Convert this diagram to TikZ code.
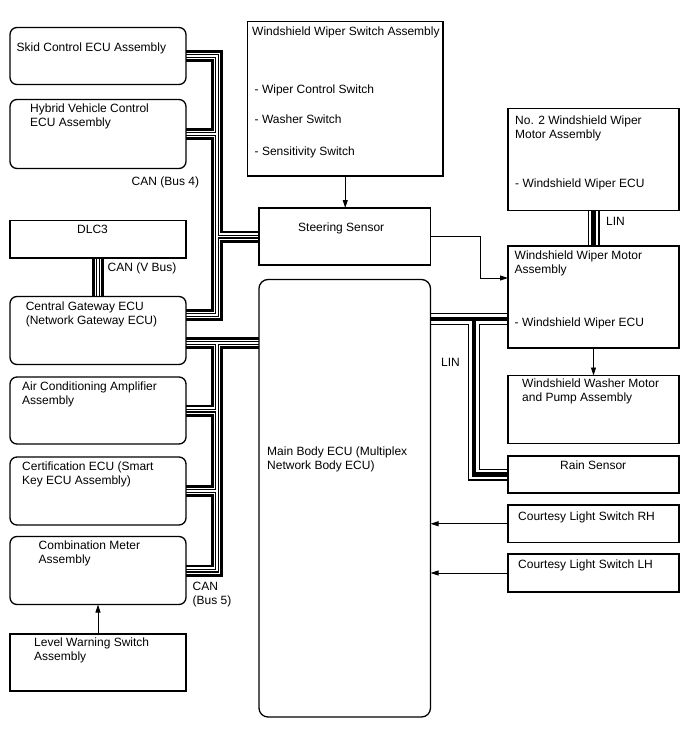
\documentclass[tikz,border=0pt]{standalone}
\usepackage{fontspec}
\setmainfont{Liberation Sans}
\usepackage{tikz}
\usetikzlibrary{arrows.meta,positioning}
\pgfdeclarelayer{bus}
\pgfsetlayers{bus,main}
\newcommand{\fs}{\fontsize{12}{14}\selectfont}
\newcommand{\canlayers}[1]{%
  \draw[line width=12pt] #1;
  \draw[line width=6.8pt,white] #1;
  \draw[line width=4pt] #1;
  \draw[line width=1.6pt,white] #1;}
\newcommand{\linlayers}[1]{%
  \draw[line width=12pt] #1;
  \draw[line width=9.4pt,white] #1;
  \draw[line width=4.4pt] #1;}

\begin{document}
\begin{tikzpicture}[
    x=1pt, y=-1pt,
    every node/.style={font=\fs},
    box/.style={draw, line width=1.3pt, outer sep=0pt},
    ecu/.style={box, rounded corners=7pt, minimum width=176pt},
    unit/.style={box, minimum width=171pt},
    txt/.style={inner sep=0pt, anchor=north west, align=left},
    lbl/.style={inner sep=0pt, anchor=west},
    arr/.style={-{Triangle[length=8pt,width=5pt]}, line width=0.9pt},
]
\useasboundingbox (0,0) rectangle (688,755);

\node[ecu, minimum height=57pt, anchor=north west] (skid) at (10,27.5) {};
\node[ecu, minimum height=69pt, below=15pt of skid] (hybrid) {};
\node[box, minimum width=176pt, minimum height=37.5pt, below=52pt of hybrid] (dlc) {};
\node[ecu, minimum height=68pt, below=38.5pt of dlc] (cgw) {};
\node[ecu, minimum height=67pt, below=12.5pt of cgw] (ac) {};
\node[ecu, minimum height=68pt, below=13pt of ac] (cert) {};
\node[ecu, minimum height=68pt, below=11.5pt of cert] (comb) {};
\node[box, minimum width=176pt, minimum height=57pt, below=29.5pt of comb] (level) {};

\node[box, minimum width=195.5pt, minimum height=154.5pt, anchor=north west] (wwsa) at (247.5,21.5) {};
\node[box, minimum width=171.5pt, minimum height=57pt, anchor=north west] (steering) at (259,208) {};
\node[ecu, rounded corners=9pt, minimum width=171.5pt, minimum height=437.5pt, below=14.5pt of steering] (main) {};

\node[unit, minimum height=102pt, anchor=north west] (no2) at (508,108.5) {};
\node[unit, minimum height=102pt, below=35.5pt of no2] (wwma) {};
\node[unit, minimum height=68pt, below=27.5pt of wwma] (washer) {};
\node[unit, minimum height=37pt, below=12.5pt of washer] (rain) {};
\node[unit, minimum height=37.5pt, below=12pt of rain] (rh) {};
\node[unit, minimum height=38pt, below=11.5pt of rh] (lh) {};

\node[txt, below right=14.8pt and 6.5pt of skid.north west] (skidtxt) {Skid Control ECU Assembly};
\node[txt, below right=4.4pt and 20pt of hybrid.north west] (hybridtxt) {Hybrid Vehicle Control\\ECU Assembly};
\node[txt, below right=4.1pt and 67pt of dlc.north west] (dlctxt) {DLC3};
\node[txt, below right=5.6pt and 15.6pt of cgw.north west] (cgwtxt) {Central Gateway ECU\\(Network Gateway ECU)};
\node[txt, below right=4.6pt and 12pt of ac.north west] (actxt) {Air Conditioning Amplifier\\Assembly};
\node[txt, below right=4.6pt and 12pt of cert.north west] (certtxt) {Certification ECU (Smart\\Key ECU Assembly)};
\node[txt, below right=4.1pt and 28.5pt of comb.north west] (combtxt) {Combination Meter\\Assembly};
\node[txt, below right=3.6pt and 24pt of level.north west] (leveltxt) {Level Warning Switch\\Assembly};

\node[txt, below right=5.1pt and 4.5pt of wwsa.north west] (wwsatxt) {Windshield Wiper Switch Assembly};
\node[txt, below right=62.8pt and 7pt of wwsa.north west] (wwsalist) {- Wiper Control Switch\\[16pt]- Washer Switch\\[18pt]- Sensitivity Switch};
\node[txt, below right=14.6pt and 39pt of steering.north west] (steeringtxt) {Steering Sensor};
\node[txt, below right=167.1pt and 8pt of main.north west] (maintxt) {Main Body ECU (Multiplex\\Network Body ECU)};

\node[txt, below right=7.1pt and 7pt of no2.north west] (no2txt) {No. 2 Windshield Wiper\\Motor Assembly\\[35pt]- Windshield Wiper ECU};
\node[txt, below right=4.6pt and 6.5pt of wwma.north west] (wwmatxt) {Windshield Wiper Motor\\Assembly\\[39pt]- Windshield Wiper ECU};
\node[txt, below right=3.1pt and 14pt of washer.north west] (washertxt) {Windshield Washer Motor\\and Pump Assembly};
\node[txt, below right=4.6pt and 52pt of rain.north west] (raintxt) {Rain Sensor};
\node[txt, below right=6.6pt and 10pt of rh.north west] (rhtxt) {Courtesy Light Switch RH};
\node[txt, below right=5.6pt and 10pt of lh.north west] (lhtxt) {Courtesy Light Switch LH};

\node[lbl] (can4) at (131.5,182) {CAN (Bus 4)};
\node[lbl] (canv) at (107.5,268.5) {CAN (V Bus)};
\node[txt] (can5) at (192.5,582.3) {CAN\\(Bus 5)};
\node[lbl] (lin1) at (606,221) {LIN};
\node[lbl] (lin2) at (441,362.5) {LIN};

\coordinate (canx) at (217,0);
\coordinate (linx) at (474,0);
\coordinate (bend) at (480.5,0);
\coordinate (cgw4) at ([yshift=15.5pt]cgw.east);
\coordinate (cgw5) at ([yshift=-12.5pt]cgw.east);
\coordinate (linmain) at ([yshift=-22pt]wwma.west);
\coordinate (wwin) at ([yshift=19pt]wwma.west);

\begin{pgfonlayer}{bus}
\canlayers{(skid.east) -- (skid.east -| canx) -- (cgw4 -| canx) -- (cgw4)
  (hybrid.east) -- (hybrid.east -| canx)
  (steering.west) -- (steering.west -| canx)
  (cgw5) -- (cgw5 -| main.west)
  (cgw5 -| canx) -- (comb.east -| canx) -- (comb.east)
  (ac.east) -- (ac.east -| canx)
  (cert.east) -- (cert.east -| canx)
  (dlc.south) -- (dlc.south |- cgw.north)}
\linlayers{(linmain -| main.east) -- (linmain)
  (linmain -| linx) -- (rain.west -| linx) -- (rain.west)
  (no2.south) -- (no2.south |- wwma.north)}
\end{pgfonlayer}

\draw[arr] (wwsa.south) -- (wwsa.south |- steering.north);
\draw[arr] (steering.east) -| (bend |- wwin) -- (wwin);
\draw[arr] (wwma.south) -- (wwma.south |- washer.north);
\draw[arr] (rh) -- (rh -| main.east);
\draw[arr] (lh) -- (lh -| main.east);
\draw[arr] (level) -- (comb);
\end{tikzpicture}
\end{document}
